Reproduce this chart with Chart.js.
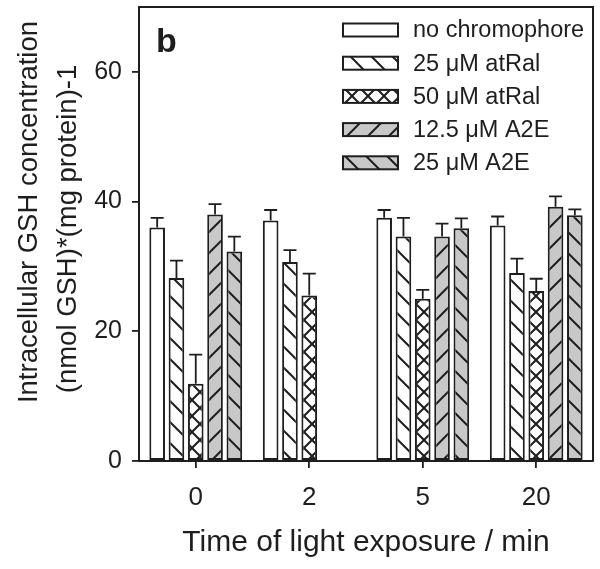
<!DOCTYPE html>
<html>
<head>
<meta charset="utf-8">
<script src="https://cdn.jsdelivr.net/npm/chart.js@4.4.0/dist/chart.umd.min.js"></script>
<style>
  html, body { margin: 0; padding: 0; background: #fff; }
  #wrap { width: 600px; height: 569px; }
</style>
</head>
<body>
<div id="wrap"><canvas id="c" width="600" height="569"></canvas></div>
<script>
const categories = ['0', '2', '5', '20'];
const seriesLabels = ['no chromophore', '25 \u03bcM atRal', '50 \u03bcM atRal', '12.5 \u03bcM A2E', '25 \u03bcM A2E'];
const noChromophore = [36.0, 37.1, 37.5, 36.3];
const noChromophoreErr = [1.5, 1.6, 1.2, 1.4];
const atRal25 = [28.2, 30.7, 34.6, 29.0];
const atRal25Err = [2.7, 1.8, 2.9, 2.2];
const atRal50 = [11.9, 25.5, 25.0, 26.2];
const atRal50Err = [4.5, 3.4, 1.4, 1.9];
const a2e125 = [38.0, null, 34.6, 39.2];
const a2e125Err = [1.6, null, 2.0, 1.6];
const a2e25 = [32.3, null, 35.9, 37.9];
const a2e25Err = [2.3, null, 1.5, 0.9];
const yTicks = [0, 20, 40, 60];
const yTitle = ['Intracellular GSH concentration', '(nmol GSH)*(mg protein)-1'];
const xTitle = 'Time of light exposure / min';
const panelLabel = 'b';

const INK = '#1e1e1e';
const GRAY = '#c8c8c8';
const FONT = "'Liberation Sans', Arial, sans-serif";

function makePattern(bg, kind, period) {
  const c = document.createElement('canvas');
  c.width = period; c.height = period;
  const g = c.getContext('2d');
  g.fillStyle = bg;
  g.fillRect(0, 0, period, period);
  g.strokeStyle = INK;
  g.lineWidth = 2;
  const p = period;
  function back() { // "\"
    g.beginPath();
    g.moveTo(-2, -2); g.lineTo(p + 2, p + 2);
    g.moveTo(-2, p - 2); g.lineTo(2, p + 2);
    g.moveTo(p - 2, -2); g.lineTo(p + 2, 2);
    g.stroke();
  }
  function fwd() { // "/"
    g.beginPath();
    g.moveTo(-2, p + 2); g.lineTo(p + 2, -2);
    g.moveTo(-2, 2); g.lineTo(2, -2);
    g.moveTo(p - 2, p + 2); g.lineTo(p + 2, p - 2);
    g.stroke();
  }
  if (kind === 'none') return bg;
  if (kind === 'back' || kind === 'cross') back();
  if (kind === 'fwd' || kind === 'cross') fwd();
  const ctx = document.getElementById('c').getContext('2d');
  return ctx.createPattern(c, 'repeat');
}

const fills = [
  makePattern('#ffffff', 'none', 20),
  makePattern('#ffffff', 'back', 21),
  makePattern('#ffffff', 'cross', 16),
  makePattern(GRAY, 'fwd', 21),
  makePattern(GRAY, 'back', 21)
];
const values = [noChromophore, atRal25, atRal50, a2e125, a2e25];
const errors = [noChromophoreErr, atRal25Err, atRal50Err, a2e125Err, a2e25Err];

const datasets = values.map((v, i) => ({
  label: seriesLabels[i],
  data: v,
  errors: errors[i],
  backgroundColor: fills[i],
  borderColor: INK,
  borderWidth: 2,
  borderSkipped: false,
  categoryPercentage: 0.85,
  barPercentage: 0.81
}));

const errorBars = {
  id: 'errorBars',
  afterDatasetsDraw(chart) {
    const ctx = chart.ctx;
    const ys = chart.scales.y;
    ctx.save();
    ctx.strokeStyle = INK;
    ctx.lineWidth = 1.8;
    chart.data.datasets.forEach((ds, i) => {
      const meta = chart.getDatasetMeta(i);
      meta.data.forEach((el, j) => {
        const v = ds.data[j];
        const e = ds.errors[j];
        if (v === null || e === null) return;
        const x = el.x;
        const y0 = ys.getPixelForValue(v);
        const y1 = ys.getPixelForValue(v + e);
        const half = 6.5;
        ctx.beginPath();
        ctx.moveTo(x, y0);
        ctx.lineTo(x, y1);
        ctx.moveTo(x - half, y1);
        ctx.lineTo(x + half, y1);
        ctx.stroke();
      });
    });
    ctx.restore();
  }
};

const decorations = {
  id: 'decorations',
  afterDraw(chart) {
    const ctx = chart.ctx;
    const a = chart.chartArea;
    ctx.save();
    ctx.strokeStyle = INK;
    ctx.lineWidth = 2;
    ctx.beginPath();
    ctx.moveTo(a.left, a.top);
    ctx.lineTo(a.right, a.top);
    ctx.lineTo(a.right, a.bottom);
    ctx.stroke();

    // legend
    const bx = 343, bw = 55, bh = 13, tx = 413;
    ctx.font = '23.5px ' + FONT;
    ctx.textBaseline = 'middle';
    ctx.textAlign = 'left';
    chart.data.datasets.forEach((ds, i) => {
      const cy = 30 + i * 33.2;
      ctx.fillStyle = ds.backgroundColor;
      ctx.fillRect(bx, cy - bh / 2, bw, bh);
      ctx.lineWidth = 2;
      ctx.strokeStyle = INK;
      ctx.strokeRect(bx, cy - bh / 2, bw, bh);
      ctx.fillStyle = INK;
      ctx.fillText(ds.label, tx, cy + 1);
    });

    // panel label
    ctx.font = 'bold 34px ' + FONT;
    ctx.textBaseline = 'alphabetic';
    ctx.fillStyle = INK;
    ctx.fillText(panelLabel, 156, 52);

    // y-axis title (two lines, rotated)
    ctx.font = '27.5px ' + FONT;
    ctx.textAlign = 'center';
    ctx.textBaseline = 'middle';
    const centers = [[29, 212], [68, 229]];
    yTitle.forEach((line, k) => {
      ctx.save();
      ctx.translate(centers[k][0], centers[k][1]);
      ctx.rotate(-Math.PI / 2);
      ctx.fillText(line, 0, 0);
      ctx.restore();
    });
    ctx.restore();
  }
};

new Chart(document.getElementById('c'), {
  type: 'bar',
  data: { labels: categories, datasets },
  options: {
    responsive: false,
    devicePixelRatio: 1,
    animation: false,
    layout: { padding: { left: 0, right: 7, top: 7, bottom: 0 } },
    plugins: {
      legend: { display: false },
      tooltip: { enabled: false }
    },
    scales: {
      x: {
        offset: true,
        grid: { offset: false, drawOnChartArea: false, drawTicks: true, tickLength: 7, color: INK, lineWidth: 1.8 },
        border: { display: true, color: INK, width: 2 },
        ticks: { color: INK, font: { family: FONT, size: 26 }, padding: 14, maxRotation: 0 },
        title: { display: true, text: xTitle, color: INK, font: { family: FONT, size: 30 }, padding: { top: 0, bottom: 8 } },
        afterFit(s) { s.height = 108; s.paddingLeft = 0; s.paddingRight = 0; }
      },
      y: {
        min: 0,
        max: 70,
        afterBuildTicks(s) { s.ticks = yTicks.map(v => ({ value: v })); },
        grid: { drawOnChartArea: false, drawTicks: true, tickLength: 7, color: INK, lineWidth: 1.8 },
        border: { display: true, color: INK, width: 2 },
        ticks: { color: INK, font: { family: FONT, size: 25 }, padding: 10 },
        afterFit(s) { s.width = 139; s.paddingTop = 0; s.paddingBottom = 0; }
      }
    }
  },
  plugins: [errorBars, decorations]
});
</script>
</body>
</html>
